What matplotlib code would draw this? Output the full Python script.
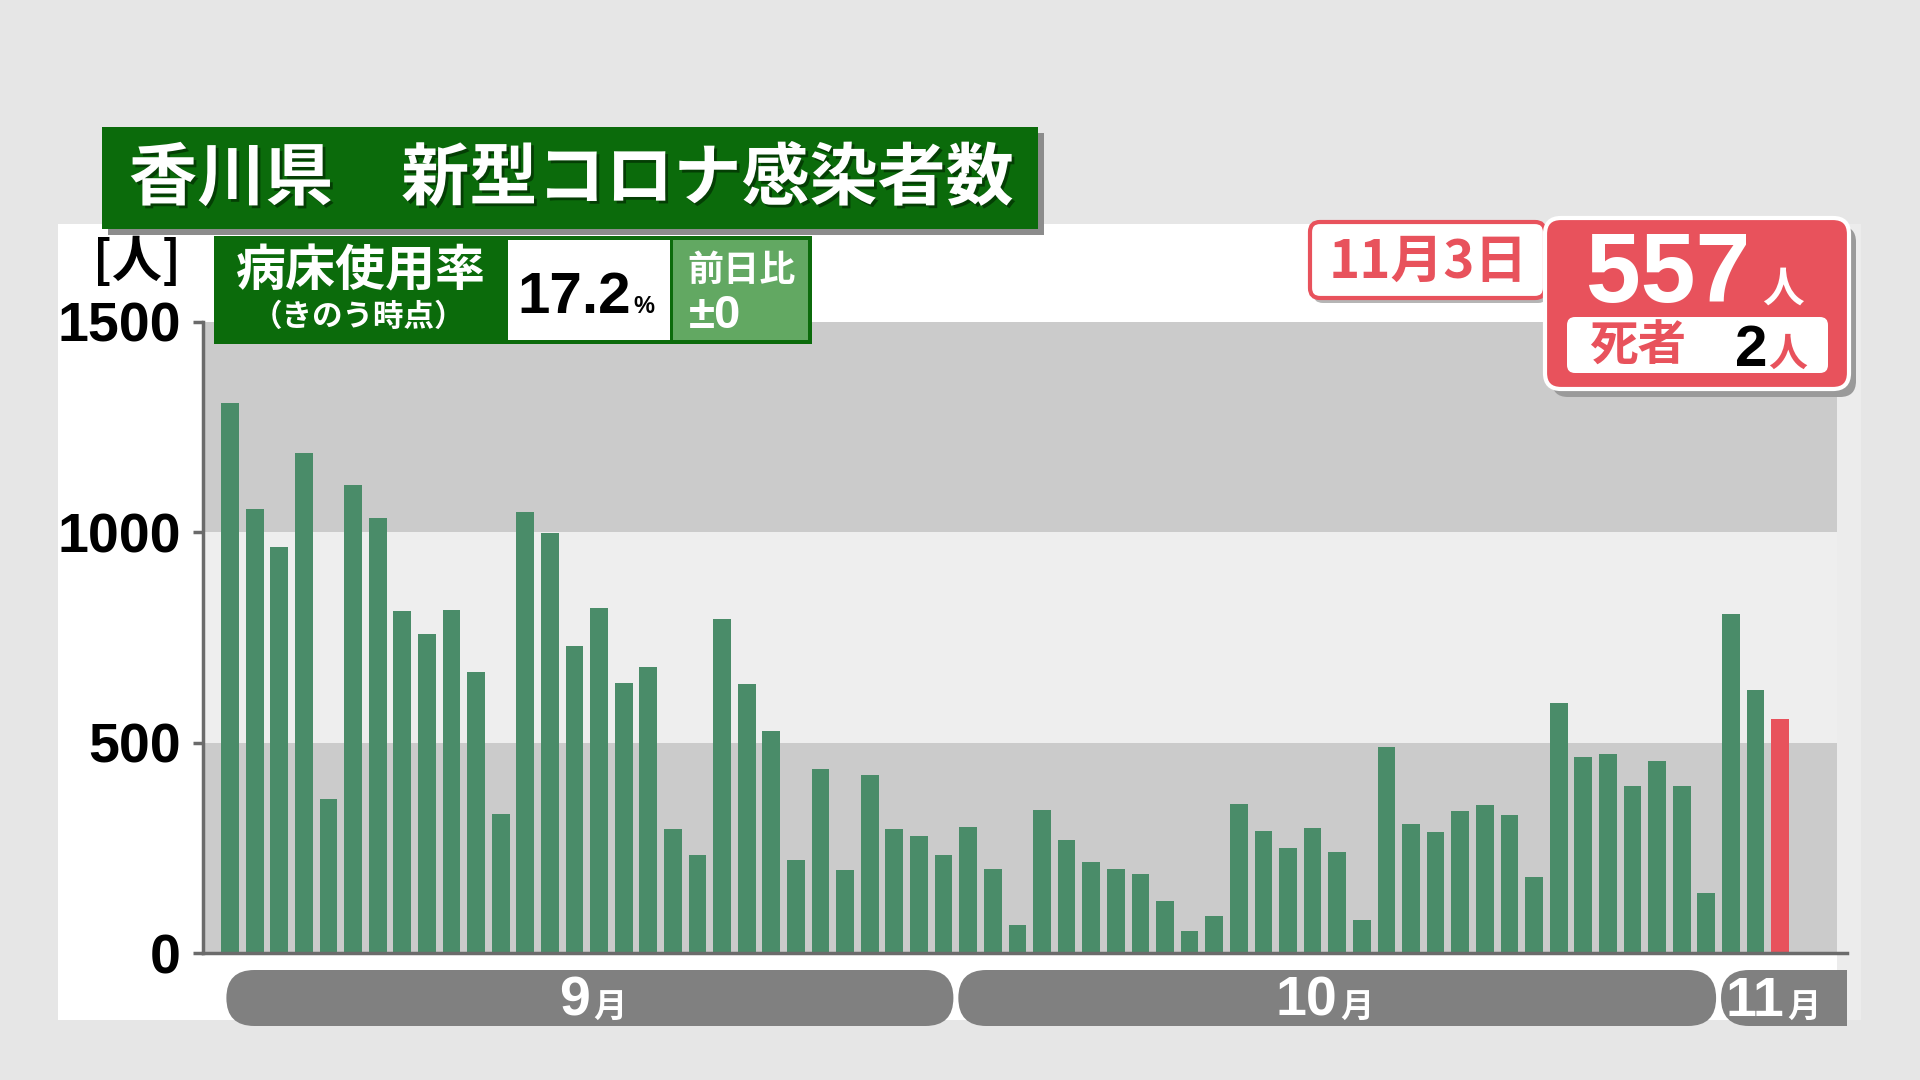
import numpy as np
import matplotlib
matplotlib.use("Agg")
import matplotlib.pyplot as plt
import matplotlib.patheffects as pe
from matplotlib.patches import FancyBboxPatch, Rectangle

# daily new cases, Kagawa (9/1 - 11/3)
sep_counts = [1308, 1056, 965, 1188, 367, 1113, 1033, 812, 759, 816,
              668, 330, 1048, 999, 730, 820, 643, 680, 294, 233,
              794, 639, 528, 220, 438, 198, 422, 294, 278, 232]
oct_counts = [300, 200, 67, 339, 268, 216, 199, 188, 124, 52,
              88, 354, 289, 250, 298, 240, 78, 490, 306, 287,
              338, 352, 329, 181, 595, 466, 472, 398, 456, 398, 142]
nov_counts = [806, 626, 557]
month_nums = ["9", "10", "11"]
y_ticks = [0, 500, 1000, 1500]

title = "香川県　新型コロナ感染者数"
bed_label = "病床使用率"
bed_note = "（きのう時点）"
bed_rate = "17.2"
bed_diff = "±0"
latest_date = "11月3日"
latest_count = "557"
latest_deaths = "2"

GREEN = "#0b6b0b"
LIGHT_GREEN = "#62a862"
BAR_GREEN = "#4a8c69"
RED = "#e8525c"
PILL = "#808080"
JP = ["Noto Sans CJK JP", "DejaVu Sans"]
NUM = ["Liberation Sans", "DejaVu Sans"]

plt.rcParams["font.family"] = JP

W, H = 1920, 1080
fig = plt.figure(figsize=(19.2, 10.8), dpi=100, facecolor="#e6e6e6")


def px_axes(z):
    a = fig.add_axes([0, 0, 1, 1], zorder=z)
    a.set_xlim(0, W)
    a.set_ylim(H, 0)
    a.axis("off")
    return a


def rbox(a, x, y, w, h, r, **kw):
    a.add_patch(FancyBboxPatch((x, y), w, h,
                               boxstyle=f"round,pad=0,rounding_size={r}", **kw))


bg = px_axes(0)
bg.add_patch(Rectangle((58, 224), 1803, 796, color="white", lw=0))
bg.add_patch(Rectangle((1837, 224), 24, 796, color="#ececec", lw=0))

# bar chart
counts = sep_counts + oct_counts + nov_counts
colors = [BAR_GREEN] * (len(counts) - 1) + [RED]
x = np.arange(len(counts))

ax = fig.add_axes([203 / W, 1 - 953 / H, (1847 - 203) / W, (953 - 322) / H], zorder=1)
ax.set_facecolor("none")
ax.set_xlim(-1.1, 65.72)
ax.set_ylim(0, 1500)
band_frac = (1837 - 203) / (1847 - 203)
for lo, hi, c in [(0, 500, "#cbcbcb"), (500, 1000, "#eeeeee"), (1000, 1500, "#cbcbcb")]:
    ax.axhspan(lo, hi, xmax=band_frac, color=c, lw=0, zorder=0)
ax.bar(x, counts, width=0.72, color=colors, zorder=2)

for s in ["top", "right"]:
    ax.spines[s].set_visible(False)
for s in ["left", "bottom"]:
    ax.spines[s].set_color("#6b6b6b")
    ax.spines[s].set_linewidth(2.5)
    ax.spines[s].set_zorder(3)
ax.set_xticks([])
ax.set_yticks(y_ticks)
ax.set_yticklabels([str(v) for v in y_ticks], fontsize=40, fontweight="bold", family=NUM)
ax.tick_params(axis="y", length=7, width=2.5, color="#6b6b6b", pad=9)

fg = px_axes(3)

# month pills under the bars
def to_px(xv):
    dx, _ = ax.transData.transform((xv, 0))
    return dx

start = 0
pill_top, pill_h = 970, 56
for i, (m, n) in enumerate(zip(month_nums, [len(sep_counts), len(oct_counts), len(nov_counts)])):
    left = to_px(max(start - 0.4, -0.15))
    right = to_px(start + n - 0.6) if i < 2 else to_px(ax.get_xlim()[1])
    rbox(fg, left, pill_top, right - left, pill_h, pill_h / 2, fc=PILL, ec="none")
    if i == 2:
        fg.add_patch(Rectangle(((left + right) / 2, pill_top), (right - left) / 2, pill_h,
                               fc=PILL, ec="none"))
    cx = (left + right) / 2
    fg.text(cx, 1016, m, color="white", fontsize=40, fontweight="bold", family=NUM,
            ha="right", va="baseline")
    fg.text(cx + 3, 1018, "月", color="white", fontsize=24, fontweight="bold",
            ha="left", va="baseline")
    start += n

# title
fg.add_patch(Rectangle((108, 133), 936, 102, color="#8c8c8c", lw=0))
fg.add_patch(Rectangle((102, 127), 936, 102, color=GREEN, lw=0))
fg.text(571, 180, title, color="white", fontsize=49, fontweight="bold",
        ha="center", va="center",
        path_effects=[pe.withSimplePatchShadow(offset=(2, -2), shadow_rgbFace="#033303", alpha=0.8)])

# unit label
fg.text(137, 262, "[人]", color="black", fontsize=36, fontweight="bold", ha="center", va="center")

# bed occupancy box
fg.add_patch(Rectangle((214, 236), 598, 108, color=GREEN, lw=0))
fg.add_patch(Rectangle((508, 240), 162, 100, color="white", lw=0))
fg.add_patch(Rectangle((673, 240), 135, 100, color=LIGHT_GREEN, lw=0))
fg.text(361, 272, bed_label, color="white", fontsize=36, fontweight="bold", ha="center", va="center")
fg.text(359, 317, bed_note, color="white", fontsize=22, fontweight="bold", ha="center", va="center")
fg.text(631, 313, bed_rate, color="black", fontsize=42, fontweight="bold", family=NUM,
        ha="right", va="baseline")
fg.text(633, 313, "%", color="black", fontsize=17, fontweight="bold", family=NUM,
        ha="left", va="baseline")
fg.text(742, 270, "前日比", color="white", fontsize=26, fontweight="bold", ha="center", va="center")
fg.text(689, 328, bed_diff, color="white", fontsize=34, fontweight="bold", family=NUM,
        ha="left", va="baseline")

# date box
rbox(fg, 1313, 227, 235, 76, 10, fc="#b5b5b5", ec="none")
rbox(fg, 1310, 222, 235, 76, 10, fc="white", ec=RED, lw=3)
fg.text(1428, 262, latest_date, color=RED, fontsize=38, fontweight="bold", ha="center", va="center")

# latest count box
rbox(fg, 1552, 226, 304, 171, 16, fc="#9a9a9a", ec="none")
rbox(fg, 1545, 218, 304, 171, 16, fc=RED, ec="white", lw=3)
fg.text(1586, 302, latest_count, color="white", fontsize=71, fontweight="bold", family=NUM,
        ha="left", va="baseline")
fg.text(1783, 290, "人", color="white", fontsize=30, fontweight="bold", ha="center", va="center")
rbox(fg, 1567, 317, 261, 56, 8, fc="white", ec="none")
fg.text(1638, 346, "死者", color=RED, fontsize=35, fontweight="bold", ha="center", va="center")
fg.text(1735, 366, latest_deaths, color="black", fontsize=42, fontweight="bold", family=NUM,
        ha="left", va="baseline")
fg.text(1788, 354, "人", color=RED, fontsize=28, fontweight="bold", ha="center", va="center")

fig.savefig("out.png", dpi=100, facecolor=fig.get_facecolor())
